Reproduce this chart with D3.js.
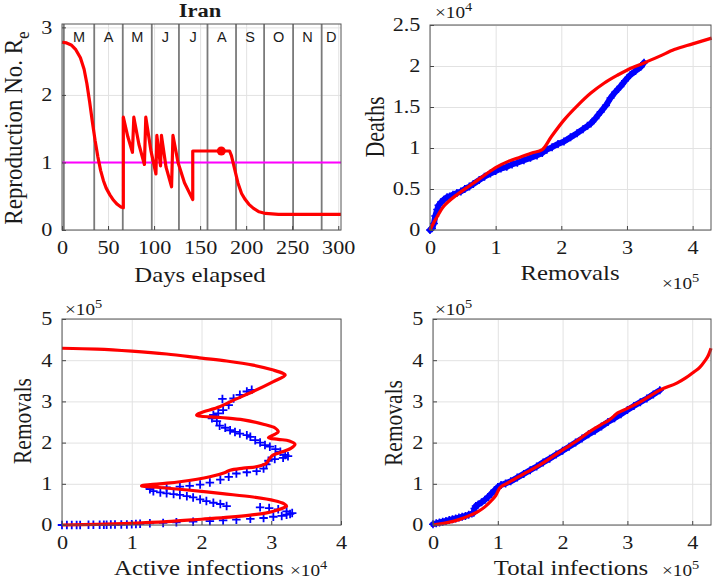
<!DOCTYPE html>
<html><head><meta charset="utf-8">
<script src="https://cdn.jsdelivr.net/npm/d3@7"></script>
<style>body{margin:0;background:#fff}svg{display:block}</style>
</head><body>
<svg id="c" width="714" height="581"></svg>
<script>
// ---------- DATA ----------
// Top-left: effective reproduction number vs days elapsed
const reDays = [0,5,10,15,20,24,27,30,33,36,39,42,45,48,52,56,60,64,66.6,
  66.6,71.5,76.5,78,83.5,89.5,91,96.5,102,103,107,108,113,119,120.5,126,133,142,
  142,173,182,184,187,191,195,199,203,208,214,221,235,260,303];
const reValues = [2.78,2.77,2.74,2.67,2.55,2.38,2.17,1.9,1.6,1.32,1.08,0.88,0.73,0.62,0.52,0.44,0.38,0.34,0.33,
  1.67,1.38,1.15,1.67,1.27,0.97,1.67,1.18,0.83,1.4,0.95,1.4,0.93,0.64,1.4,1.0,0.7,0.45,
  1.17,1.17,1.17,1.1,0.93,0.7,0.54,0.45,0.38,0.32,0.27,0.245,0.232,0.23,0.23];
const currentDay = 173, currentRe = 1.17;
const thresholdRe = 1;
const monthStartDays = [2,35,66,97.5,127,158,189,219.5,251,282];
const monthLetters = ["M","A","M","J","J","A","S","O","N","D"];
const daysTicks = [0,50,100,150,200,250,300];
const reTicks = [0,1,2,3];

// Top-right: deaths (x1e4) vs removals (x1e5)
const modelRemovalsTR = [0,0.05,0.1,0.2,0.3,0.41,0.55,0.66,0.85,1.02,1.2,1.38,1.55,1.71,1.85,2.04,2.25,2.45,2.65,2.86,3.05,3.27,3.5,3.72,4.0,4.29];
const modelDeathsTR   = [0,0.08,0.15,0.28,0.36,0.43,0.51,0.57,0.68,0.77,0.84,0.89,0.94,0.98,1.14,1.34,1.52,1.67,1.79,1.89,1.97,2.04,2.12,2.2,2.27,2.34];
const dataRemovalsTR = [0,0.03,0.06,0.08,0.11,0.13,0.17,0.21,0.26,0.3,0.35,0.41,0.47,0.53,0.6,0.66,0.75,0.83,0.92,1.0,1.08,1.17,1.25,1.33,1.43,1.53,1.63,1.71,1.78,1.86,1.95,2.04,2.14,2.24,2.33,2.4,2.45,2.52,2.6,2.68,2.75,2.82,2.9,2.97,3.05,3.13,3.21,3.26];
const dataDeathsTR   = [0,0.02,0.08,0.17,0.25,0.3,0.34,0.37,0.4,0.41,0.43,0.45,0.47,0.5,0.53,0.56,0.61,0.65,0.69,0.72,0.75,0.77,0.8,0.82,0.85,0.88,0.91,0.94,0.98,1.01,1.05,1.08,1.13,1.18,1.23,1.27,1.3,1.36,1.44,1.52,1.61,1.68,1.75,1.82,1.89,1.94,1.99,2.04];
const removalsTicksTR = [0,1,2,3,4];
const deathsTicksTR = [0,0.5,1,1.5,2,2.5];

// Bottom-left: removals (x1e5) vs active infections (x1e4)
const modelActiveBL = [0,0.5,1.0,1.5,2.0,2.4,2.7,2.95,3.08,3.18,3.22,3.18,3.05,2.74,2.3,1.8,1.4,1.14,1.4,1.69,2.12,2.33,2.41,2.6,2.8,2.93,2.98,3.03,3.13,3.28,3.34,3.26,3.1,2.96,3.05,3.1,3.05,2.9,2.6,2.27,1.93,2.26,2.46,2.74,3.03,3.2,3.17,3.03,2.74,2.36,2.0,1.5,1.0,0.5,0];
const modelRemovalsBL = [0,0.015,0.04,0.08,0.14,0.19,0.24,0.3,0.36,0.42,0.46,0.52,0.59,0.68,0.76,0.85,0.91,0.95,1.0,1.05,1.17,1.27,1.33,1.38,1.42,1.5,1.62,1.7,1.76,1.86,1.96,2.04,2.08,2.12,2.2,2.26,2.36,2.44,2.55,2.61,2.67,2.87,3.03,3.24,3.48,3.64,3.68,3.76,3.88,3.98,4.05,4.15,4.22,4.27,4.29];
const dataActiveBL = [0,0.07,0.14,0.21,0.26,0.38,0.45,0.54,0.6,0.64,0.7,0.76,0.85,0.93,1.0,1.06,1.12,1.26,1.45,1.64,1.88,2.12,2.31,2.5,2.7,2.89,3.03,3.15,3.22,3.27,3.3,3.22,3.1,2.97,2.84,
  2.36,2.27,2.17,2.07,1.98,1.88,1.79,1.69,1.6,1.5,1.41,1.31,1.26,
  1.26,1.5,1.69,1.83,1.98,2.12,2.27,2.39,2.5,2.65,2.79,2.89,2.93,2.96,3.05,3.17,3.24,3.2,3.13,3.06,2.98,2.91,2.84,2.77,2.7,2.65,2.55,2.48,2.41,2.34,2.26,2.22,2.15,2.17,2.24,2.31,2.39,2.3,2.46,2.55,2.65,2.72];
const dataRemovalsBL = [0,0,0,0,0,0.005,0.005,0.005,0.008,0.008,0.01,0.01,0.012,0.015,0.02,0.025,0.03,0.04,0.05,0.065,0.08,0.095,0.11,0.13,0.15,0.17,0.2,0.22,0.25,0.27,0.29,0.33,0.38,0.41,0.43,
  0.46,0.51,0.54,0.58,0.62,0.67,0.70,0.73,0.75,0.77,0.79,0.82,0.87,
  0.90,0.91,0.93,0.95,0.98,1.03,1.1,1.17,1.25,1.28,1.31,1.37,1.47,1.56,1.6,1.63,1.67,1.7,1.78,1.84,1.9,1.94,2.0,2.06,2.14,2.18,2.22,2.26,2.3,2.36,2.41,2.52,2.59,2.67,2.71,2.79,2.91,3.06,3.07,3.16,3.24,3.28];
const activeTicksBL = [0,1,2,3,4];
const removalsTicksBL = [0,1,2,3,4,5];

// Bottom-right: removals (x1e5) vs total infections (x1e5)
const modelTotalBR    = [0,0.2,0.4,0.58,0.7,0.8,0.9,0.97,1.03,1.08,1.14,1.4,1.61,1.8,2.02,2.2,2.43,2.6,2.72,2.85,3.0,3.2,3.51,3.77,3.9,4.03,4.12,4.19,4.25,4.29];
const modelRemovalsBR = [0,0.05,0.13,0.24,0.33,0.44,0.59,0.72,0.9,0.96,1.01,1.24,1.42,1.61,1.84,2.02,2.28,2.44,2.55,2.72,2.83,2.99,3.28,3.45,3.57,3.72,3.83,3.97,4.12,4.29];
const dataTotalBR    = [0,0.05,0.1,0.15,0.2,0.25,0.3,0.35,0.4,0.45,0.5,0.55,0.6,0.63,0.64,0.66,0.7,0.75,0.8,0.85,0.9,0.95,1.0,1.05,1.12,1.2,1.3,1.4,1.5,1.6,1.7,1.8,1.9,2.0,2.1,2.2,2.3,2.4,2.5,2.6,2.7,2.8,2.9,3.0,3.1,3.2,3.3,3.4,3.5];
const dataRemovalsBR = [0.02,0.04,0.06,0.08,0.1,0.12,0.14,0.16,0.18,0.2,0.22,0.25,0.28,0.3,0.4,0.46,0.5,0.55,0.61,0.68,0.76,0.84,0.92,0.97,1.01,1.06,1.15,1.24,1.33,1.42,1.52,1.61,1.71,1.8,1.9,2.0,2.1,2.2,2.29,2.39,2.5,2.59,2.69,2.79,2.89,2.98,3.07,3.17,3.27];
const totalTicksBR = [0,1,2,3,4];
const removalsTicksBR = [0,1,2,3,4,5];

// ---------- DRAWING ----------
const svg = d3.select("#c");
const SERIF = "'Liberation Serif','Times New Roman',serif";
const SANS = "'Liberation Sans',Arial,sans-serif";
const SX = 1.2;
const RED = "#ff0000", BLUE = "#0000ff", MAGENTA = "#ff00ff";

function panel(o) {
  const g = svg.append("g").attr("transform", `translate(${o.left},${o.top})`);
  const w = o.right - o.left, h = o.bottom - o.top;
  const x = d3.scaleLinear().domain(o.xDomain).range([0, w]);
  const y = d3.scaleLinear().domain(o.yDomain).range([h, 0]);
  const gx = g.append("g").attr("transform", `translate(0,${h})`)
    .call(d3.axisBottom(x).tickValues(o.xTicks).tickSize(-h).tickFormat(""));
  const gy = g.append("g")
    .call(d3.axisLeft(y).tickValues(o.yTicks).tickSize(-w).tickFormat(""));
  [gx, gy].forEach(a => { a.select(".domain").remove(); a.selectAll("line").attr("stroke", "#e2e2e2").attr("stroke-width", 1); });
  return { g, x, y, w, h, o };
}

function finishAxes(p) {
  const o = p.o;
  const ax = p.g.append("g").attr("transform", `translate(0,${p.h})`)
    .call(d3.axisBottom(p.x).tickValues(o.xTicks).tickFormat(d => d).tickSizeInner(-4).tickSizeOuter(0).tickPadding(11));
  const ay = p.g.append("g")
    .call(d3.axisLeft(p.y).tickValues(o.yTicks).tickFormat(d => d).tickSizeInner(-4).tickSizeOuter(0).tickPadding(8));
  [ax, ay].forEach(a => {
    a.select(".domain").remove();
    a.selectAll("line").attr("stroke", "#444");
    a.selectAll("text").attr("font-family", SERIF).attr("font-size", 18.5).attr("fill", "#1a1a1a")
      .attr("transform", `scale(${SX},1)`);
  });
  p.g.append("rect").attr("x", 0).attr("y", 0).attr("width", p.w).attr("height", p.h)
    .attr("fill", "none").attr("stroke", "#555").attr("stroke-width", 1);
}

function hText(x, y, str, size, opts = {}) {
  return svg.append("text").attr("transform", `translate(${x},${y}) scale(${opts.sx || 1.18},1)`)
    .attr("text-anchor", opts.anchor || "middle").attr("font-family", opts.family || SERIF)
    .attr("font-size", size).attr("font-weight", opts.weight || "normal").attr("fill", "#1a1a1a").text(str);
}
function vText(x, y, str, size) {
  return svg.append("text").attr("transform", `translate(${x},${y}) rotate(-90) scale(1,${SX})`)
    .attr("text-anchor", "middle").attr("font-family", SERIF).attr("font-size", size).attr("fill", "#1a1a1a").text(str);
}
function multiplier(x, y, exp) {
  const t = svg.append("text").attr("transform", `translate(${x},${y}) scale(${SX},1)`)
    .attr("font-family", SERIF).attr("font-size", 16).attr("fill", "#1a1a1a");
  t.append("tspan").text("\u00d710");
  t.append("tspan").attr("dy", -7).attr("font-size", 12).text(exp);
}
function plusMarkers(p, xs, ys, size, sw) {
  p.g.append("g").selectAll("path").data(xs.map((d, i) => [d, ys[i]])).join("path")
    .attr("d", d => `M${p.x(d[0]) - size / 2},${p.y(d[1])}h${size}M${p.x(d[0])},${p.y(d[1]) - size / 2}v${size}`)
    .attr("stroke", BLUE).attr("stroke-width", sw).attr("fill", "none");
}
function redLine(p, xs, ys, curve) {
  p.g.append("path").datum(xs.map((d, i) => [d, ys[i]]))
    .attr("d", d3.line().x(d => p.x(d[0])).y(d => p.y(d[1])).curve(curve))
    .attr("fill", "none").attr("stroke", RED).attr("stroke-width", 3.2).attr("stroke-linejoin", "round");
}
function blueBand(p, xs, ys, w) {
  p.g.append("path").datum(xs.map((d, i) => [d, ys[i]]))
    .attr("d", d3.line().x(d => p.x(d[0])).y(d => p.y(d[1])).curve(d3.curveLinear))
    .attr("fill", "none").attr("stroke", BLUE).attr("stroke-width", w).attr("stroke-linejoin", "round").attr("stroke-linecap", "round");
}

// ---- Top-left ----
const tl = panel({ left: 62, right: 341, top: 24, bottom: 230, xDomain: [0, 303], yDomain: [0, 3.05], xTicks: daysTicks, yTicks: reTicks });
tl.g.append("g").selectAll("line").data(monthStartDays).join("line")
  .attr("x1", d => tl.x(d)).attr("x2", d => tl.x(d)).attr("y1", 0).attr("y2", tl.h)
  .attr("stroke", "#7a7a7a").attr("stroke-width", 1.8);
const monthEnds = monthStartDays.slice(1).concat([303]);
tl.g.append("g").selectAll("text").data(monthLetters).join("text")
  .attr("transform", (d, i) => `translate(${tl.x((monthStartDays[i] + monthEnds[i]) / 2)},18)`)
  .attr("text-anchor", "middle").attr("font-family", SANS).attr("font-size", 14.5).attr("fill", "#1a1a1a").text(d => d);
tl.g.append("line").attr("x1", tl.x(0)).attr("x2", tl.x(303)).attr("y1", tl.y(thresholdRe)).attr("y2", tl.y(thresholdRe))
  .attr("stroke", MAGENTA).attr("stroke-width", 2);
redLine(tl, reDays, reValues, d3.curveLinear);
tl.g.append("circle").attr("cx", tl.x(currentDay)).attr("cy", tl.y(currentRe)).attr("r", 4.5).attr("fill", RED);
finishAxes(tl);
hText(200, 17, "Iran", 18, { weight: "bold", sx: 1.25 });
hText(200, 282, "Days elapsed", 21);
{
  const t = svg.append("text").attr("transform", `translate(22,128) rotate(-90) scale(1,1.1)`)
    .attr("text-anchor", "middle").attr("font-family", SERIF).attr("font-size", 23).attr("fill", "#1a1a1a");
  t.append("tspan").text("Reproduction No. R");
  t.append("tspan").attr("dy", 6).attr("font-size", 17).text("e");
}

// ---- Top-right ----
const tr = panel({ left: 430, right: 711, top: 25, bottom: 230, xDomain: [0, 4.28], yDomain: [0, 2.5], xTicks: removalsTicksTR, yTicks: deathsTicksTR });
blueBand(tr, dataRemovalsTR, dataDeathsTR, 6);
plusMarkers(tr, dataRemovalsTR, dataDeathsTR, 8, 1.6);
redLine(tr, modelRemovalsTR, modelDeathsTR, d3.curveMonotoneX);
finishAxes(tr);
vText(384, 127, "Deaths", 22);
hText(570, 280, "Removals", 21);
multiplier(435, 18, "4");
multiplier(662, 289, "5");

// ---- Bottom-left ----
const bl = panel({ left: 62, right: 341, top: 319, bottom: 525, xDomain: [0, 4], yDomain: [0, 5], xTicks: activeTicksBL, yTicks: removalsTicksBL });
plusMarkers(bl, dataActiveBL, dataRemovalsBL, 8.5, 1.8);
redLine(bl, modelActiveBL, modelRemovalsBL, d3.curveCatmullRom.alpha(0.5));
finishAxes(bl);
vText(31, 421, "Removals", 21.5);
hText(199, 575, "Active infections", 21);
multiplier(290, 576, "4");
multiplier(65, 315, "5");

// ---- Bottom-right ----
const br = panel({ left: 433, right: 711, top: 319, bottom: 525, xDomain: [0, 4.29], yDomain: [0, 5], xTicks: totalTicksBR, yTicks: removalsTicksBR });
blueBand(br, dataTotalBR, dataRemovalsBR, 6);
plusMarkers(br, dataTotalBR, dataRemovalsBR, 8, 1.6);
redLine(br, modelTotalBR, modelRemovalsBR, d3.curveMonotoneX);
finishAxes(br);
vText(402, 423, "Removals", 21.5);
hText(571, 575, "Total infections", 21);
multiplier(435, 315, "5");
multiplier(662, 576, "5");
</script>
</body></html>
